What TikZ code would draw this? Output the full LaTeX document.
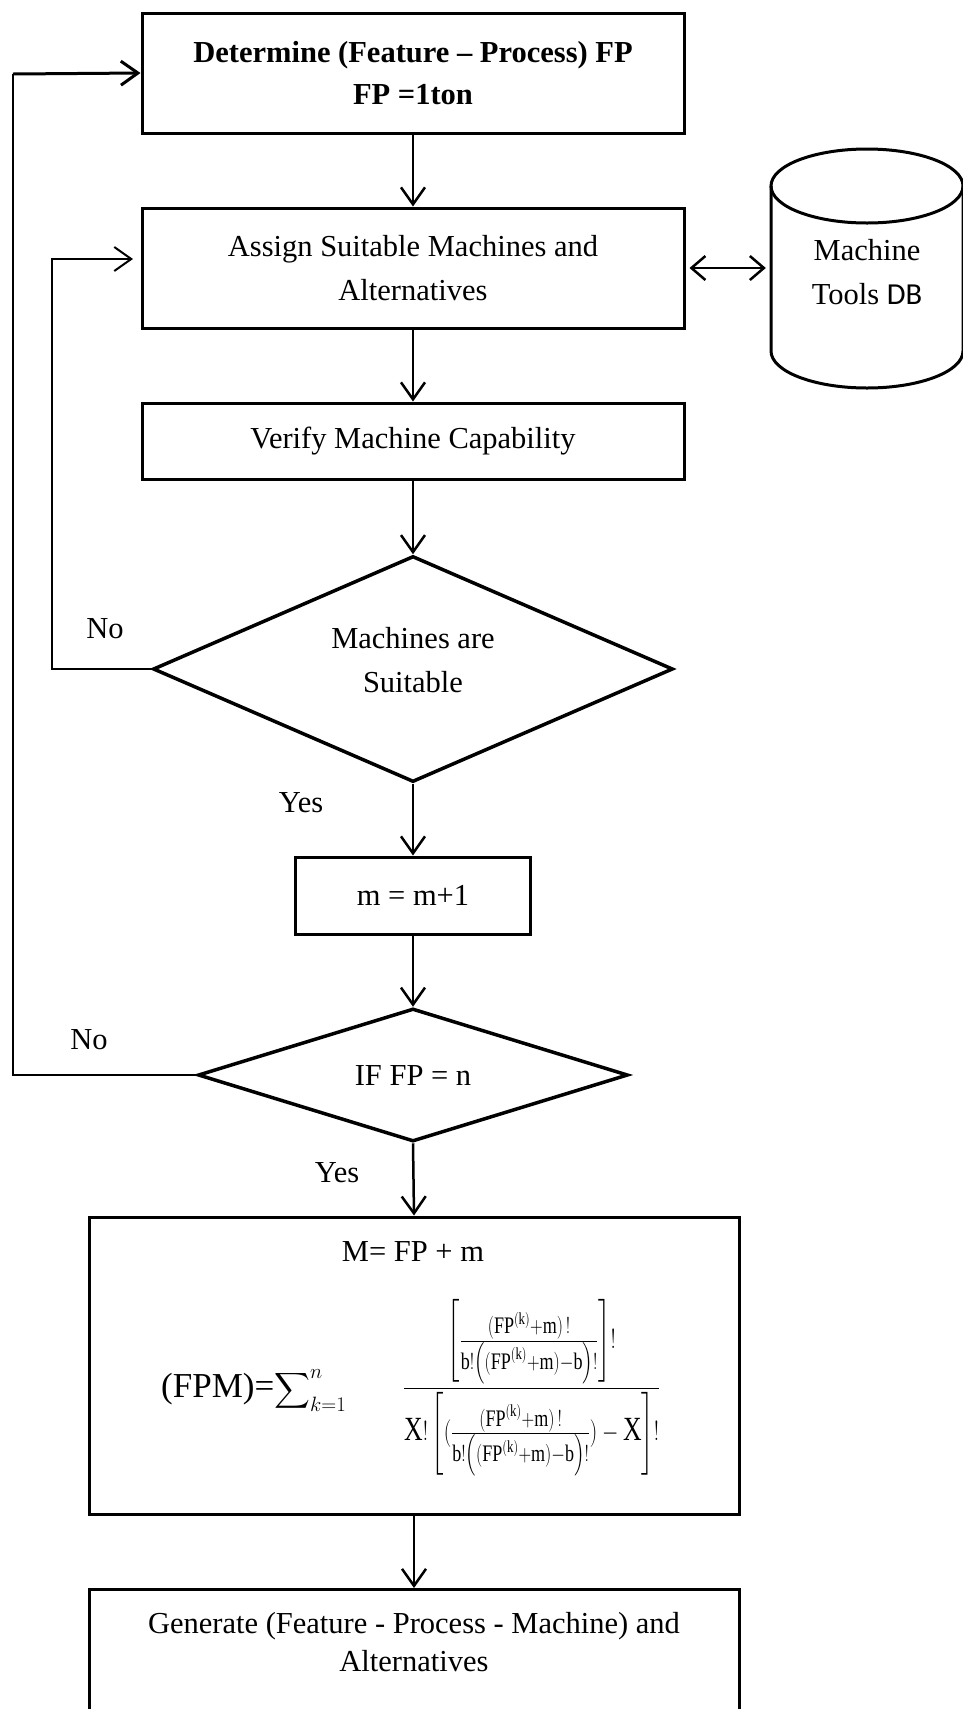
\documentclass[tikz,border=0pt]{standalone}
\usepackage{amsmath}
\usepackage{graphicx}
\usepackage{fontspec}
\setmainfont{Liberation Serif}
\newfontfamily\dbfont{Carlito}
\usetikzlibrary{shapes.geometric,arrows.meta}
\newcommand{\myinnerfrac}{\frac{(\mathrm{FP}^{(\mathrm{k})}+\mathrm{m})\,!}{\mathrm{b}!\left((\mathrm{FP}^{(\mathrm{k})}+\mathrm{m})-\mathrm{b}\right)!}}
\begin{document}
\begin{tikzpicture}[x=1pt,y=-1pt,
  fs/.style={font=\fontsize{30.5}{44}\selectfont},
  box/.style={draw, line width=3pt, align=center, inner sep=0pt, fs},
  dia/.style={draw, diamond, line width=3.5pt, align=center, inner sep=0pt, fs},
  tip/.style={-{Straight Barb[length=17pt,width=24pt]}},
  arr/.style={line width=2.5pt, tip},
  loopline/.style={line width=2pt},
  lbl/.style={fs, inner sep=0pt}]
\clip (0,0) rectangle (963,1709);

% boxes
\node[box, minimum width=542pt, minimum height=120pt, font=\fontsize{30.5}{42}\selectfont\bfseries] (top) at (413,73) {Determine (Feature – Process) FP\\FP =1ton};
\node[box, minimum width=542pt, minimum height=120pt] (assign) at (413,268) {Assign Suitable Machines and\\Alternatives};
\node[box, minimum width=542pt, minimum height=76pt] (verify) at (413,441) {Verify Machine Capability};
\node[dia, minimum width=520pt, minimum height=226pt, aspect=2.3] (d1) at (413,669) {Machines are\\Suitable\rule[-18pt]{0pt}{18pt}};
\node[box, minimum width=235pt, minimum height=77pt] (mbox) at (413,895.5) {m = m+1};
\node[dia, minimum width=430pt, minimum height=133pt, aspect=3.2] (d2) at (413,1075) {IF FP = n};
\node[box, minimum width=650pt, minimum height=297pt] (fbox) at (414,1365.5) {};
\node[lbl] (meq) at (413,1251) {M= FP + m};
\node[lbl, anchor=base west] (fpm) at (161,1397) {{\fontsize{35}{40}\selectfont (FPM)=}$\displaystyle\sum\nolimits_{k=1}^{n}$};
\node[lbl, anchor=base west] (ffrac) at (403,1395) {\scalebox{0.845}[1.11]{$\displaystyle\frac{\left[\myinnerfrac\right]!}{\mathrm{X}!\left[(\myinnerfrac)-\mathrm{X}\right]!}$}};
\node[box, minimum width=650pt, minimum height=160pt, anchor=north] (gen) at (414,1588) {};
\node[lbl, align=center, font=\fontsize{30.5}{38}\selectfont] (gentext) at (414,1642) {Generate (Feature - Process - Machine) and\\Alternatives};

% database cylinder
\draw[line width=3pt] (867,186) ellipse [x radius=96pt, y radius=37pt];
\draw[line width=3pt] (771,186) -- (771,351) arc[start angle=180, end angle=360, x radius=96pt, y radius=37pt] -- (963,186);
\node[lbl, align=center, minimum width=192pt] (db) at (867,272) {Machine\\Tools {\dbfont DB}};

% connectors
\draw[arr] (top.south) -- (assign.north);
\draw[arr] (assign.south) -- (verify.north);
\draw[arr] (verify.south) -- (d1.north);
\draw[arr] (d1.south) -- (mbox.north);
\draw[arr] (mbox.south) -- (d2.north);
\draw[arr] (d2.south) -- (fbox.north);
\draw[arr] (fbox.south) -- (gen.north);
\draw[line width=2.5pt, {Straight Barb[length=14pt,width=24pt]}-{Straight Barb[length=14pt,width=24pt]}, shorten <=4pt, shorten >=5pt] (assign.east) -- (assign.east -| db.west);

% loops
\coordinate (c1) at (52,669);
\coordinate (c2) at (52,259);
\coordinate (e1) at (133,259);
\draw[loopline, tip] (d1.west) -- (c1) -- (c2) -- (e1);
\coordinate (o1) at (13,1075);
\coordinate (o2) at (13,74);
\draw[loopline] (d2.west) -- (o1) -- (o2);
\draw[line width=3pt, tip] (o2) -- (top.west);

% labels
\node[lbl] (no1) at (105,629) {No};
\node[lbl] (yes1) at (301,803) {Yes};
\node[lbl] (no2) at (89,1040) {No};
\node[lbl] (yes2) at (337,1173) {Yes};
\end{tikzpicture}
\end{document}
